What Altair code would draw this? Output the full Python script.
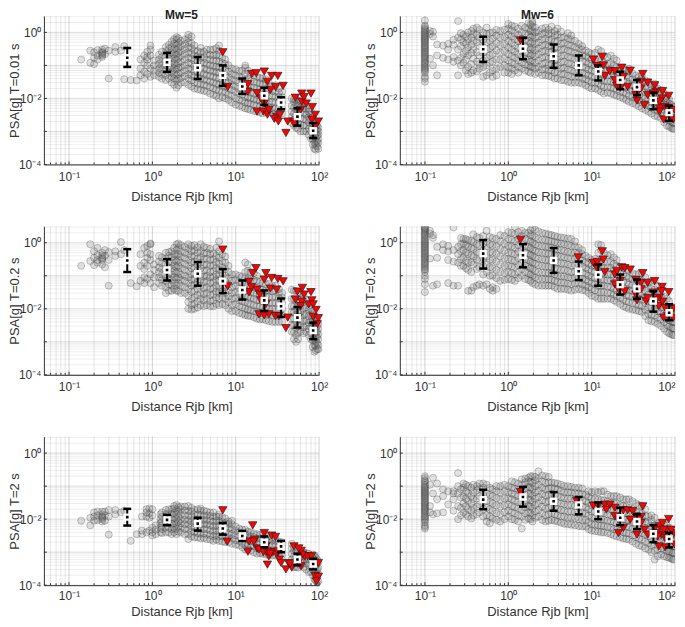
import altair as alt
import pandas as pd

BIN_X = [0.5, 1.5, 3.5, 7, 12, 22, 35, 55, 85]

# ---------- Mw=5, T=0.01 s
G11 = [(0.14,[.15]),(0.18,[.12,.28]),(0.2,[.11,.17,.25]),(0.22,[.15,.2,.29]),(0.25,[.18,.22,.26,.3,.2,.24]),(0.27,[.22,.32]),(0.3,[.28,.04]),(0.36,[.36,.26]),(0.42,[.28]),(0.46,[.038,.38]),(0.55,[.036]),(0.65,[.035]),
(0.72,[.05,.08,.15]),(0.8,[.04,.065,.12,.2]),(0.87,[.055,.1,.15,.18,.26]),(0.95,[.045,.08,.2,.3,.4]),(1.05,[.05,.07,.1,.14]),(1.2,[.045,.06,.08,.11,.15,.21]),
(1.45,[.036,.05,.07,.1,.14,.19,.27,.36]),(1.7,[.03,.045,.065,.09,.13,.18,.25,.36,.52]),(1.95,[.021,.035,.05,.075,.1,.15,.21,.3,.42,.6,.72]),(2.2,[.03,.042,.06,.09,.13,.19,.27,.38,.55]),
(2.7,[.026,.04,.055,.08,.12,.17,.25,.36,.5,.68,.85]),(3.2,[.02,.03,.045,.065,.095,.14,.2,.28,.4]),(3.8,[.018,.027,.04,.06,.085,.12,.17,.25,.34]),(4.5,[.016,.024,.035,.05,.075,.11,.15,.22,.3]),
(5.4,[.013,.02,.03,.045,.065,.095,.14,.2,.3]),(6.3,[.01,.017,.026,.04,.06,.09,.13,.2,.28,.4]),(7.5,[.01,.015,.022,.035,.05,.075,.11,.15]),(9,[.0075,.012,.018,.026,.037,.055,.08]),
(11,[.006,.009,.014,.02,.03,.045,.068]),(13,[.005,.0075,.011,.016,.024,.036,.055,.085,.1]),(15,[.0045,.007,.01,.015,.022,.033,.055]),(18,[.004,.006,.009,.013,.02,.03,.045]),
(21,[.0035,.0055,.008,.012,.018,.027,.04]),(25,[.004,.0055,.008,.012,.018,.03]),(30,[.0035,.005,.0075,.011,.016,.025]),(36,[.0035,.005,.0075,.011,.016]),
(47,[.0018,.0028,.004,.006,.01]),(53,[.0013,.002,.003,.0045,.0065,.009]),(60,[.001,.0016,.0025,.0038,.0055,.008]),(70,[.001,.0015,.0022,.0032,.0048,.006]),
(80,[.0006,.001,.0015,.0022,.0032,.004]),(88,[.0003,.00045,.0007,.001,.0015,.002]),(95,[.00035,.0005,.00075,.0011,.0015])]
G11B = [(1.3,[.04,.055,.075,.1,.13,.18,.26]),(1.58,[.04,.06,.085,.12,.16,.22,.32,.42]),(1.82,[.026,.04,.055,.08,.11,.16,.22,.31,.45,.62]),(2.05,[.025,.04,.055,.085,.12,.17,.24,.34,.48,.66]),(2.45,[.03,.048,.07,.1,.15,.22,.31,.44,.6]),(2.95,[.023,.035,.05,.075,.11,.16,.23,.33,.46,.75]),(3.5,[.019,.028,.042,.062,.09,.13,.19,.27]),(4.15,[.017,.026,.038,.055,.08,.12,.18,.26]),(4.95,[.014,.022,.032,.048,.07,.1,.15,.21,.3]),(5.85,[.012,.018,.028,.042,.062,.09,.14,.21,.33]),(6.9,[.011,.016,.024,.036,.055,.08,.12,.17]),(8.2,[.009,.013,.02,.03,.044,.065,.1]),(10,[.0065,.01,.016,.023,.034,.05,.075]),(12,[.0055,.0085,.013,.019,.028,.042,.07]),(14,[.0048,.0072,.011,.017,.026,.04,.07]),(16.5,[.0042,.0065,.0095,.014,.021,.032,.05]),(19.5,[.0038,.0058,.0085,.013,.019,.029,.042]),(23,[.0038,.0055,.0085,.013,.019,.03,.038]),(27.5,[.0036,.0052,.0078,.012,.017,.024]),(33,[.0036,.005,.0075,.011,.015,.02]),(50,[.0015,.0023,.0035,.0052,.0078,.0095]),(56,[.0012,.0018,.0028,.0042,.006,.0085]),(65,[.001,.0015,.0024,.0036,.005,.007]),(75,[.0008,.0012,.0019,.0027,.004,.005]),(84,[.0004,.0006,.00085,.0012,.0018,.0027]),(91,[.00028,.00038,.0005,.00065,.00085,.0011,.0014,.0018]),(98,[.0003,.00045,.0006,.0008,.001,.0013])]
T11 = [(7,.25),(8,.022),(14,.027),(15.6,.055),(17.6,.058),(22,.065),(24,.032),(27,.048),(32,.048),(37,.024),(30,.022),(26,.018),(18,.0145),(14,.016),(20,.01),(22,.007),(18,.004),(21.5,.004),(24,.0032),(25,.0045),(31,.0028),(29,.0024),(34,.0032),(32.5,.002),(42,.002),(40,.0009),(50,.002),(52,.0105),(62,.014),(80,.014),(62,.008),(66,.011),(70,.007),(83,.0055),(60,.0045),(90,.0032),(82,.0023),(98,.002),(90,.0014),(50,.0017)]
C11 = [.17,.125,.085,.05,.023,.012,.0075,.0028,.00105]
L11 = [.09,.064,.039,.024,.0137,.0063,.0047,.0015,.00063]
H11 = [.338,.24,.18,.10,.04,.021,.0108,.005,.0018]

# ---------- Mw=5, T=0.2 s
G21 = [(0.14,[.2]),(0.18,[.28,.9]),(0.2,[.21,.35,.55]),(0.22,[.25,.3,.42,.7]),(0.25,[.22,.3,.36,.42,.5,.33]),(0.27,[.18,.4,.6]),(0.3,[.3,.05,.52]),(0.36,[.55,.4]),(0.42,[1.05,.45]),(0.46,[.6]),(0.55,[.06]),(0.65,[.048]),
(0.72,[.07,.2,.45]),(0.8,[.06,.09,.16,.25,.7]),(0.87,[.08,.2,.35,.5,.8]),(0.95,[.06,.11,.3,.45,.9,.95]),(1.05,[.045,.09,.15,.22]),(1.2,[.06,.09,.13,.18,.27,.4]),
(1.45,[.03,.045,.07,.1,.15,.22,.33,.5]),(1.7,[.035,.05,.075,.11,.17,.25,.37,.55]),(1.95,[.035,.05,.08,.12,.18,.27,.4,.6,.9]),(2.2,[.03,.05,.075,.11,.17,.25,.38,.55,.85]),
(2.7,[.01,.016,.025,.04,.06,.09,.14,.2,.3,.45,.65,.9]),(3.2,[.01,.014,.022,.035,.055,.08,.12,.18,.27,.4,.6,.85]),(3.8,[.013,.02,.03,.05,.075,.11,.17,.25,.37,.55,.9]),(4.5,[.013,.02,.03,.045,.07,.1,.15,.22,.33,.5,.7]),
(5.4,[.012,.018,.028,.042,.065,.095,.14,.21,.32,.48]),(6.3,[.013,.02,.03,.045,.07,.1,.15,.23,.35,.55,1.1]),(7.5,[.013,.02,.03,.045,.07,.1,.16,.25,.38]),(9,[.0085,.013,.02,.03,.045,.07,.11]),
(11,[.0075,.012,.018,.028,.042,.065,.1]),(13,[.0065,.01,.016,.024,.036,.055,.085,.13,.25]),(15,[.006,.009,.014,.021,.032,.05,.08,.13]),(18,[.005,.008,.012,.018,.028,.042,.07,.1]),
(21,[.0048,.0075,.011,.017,.025,.038,.06]),(25,[.0042,.0065,.01,.015,.023,.035,.058]),(30,[.004,.0065,.01,.015,.023,.035,.05]),(36,[.004,.0065,.01,.015,.022,.03]),
(47,[.002,.0032,.005,.008,.012,.02,.038]),(53,[.001,.0016,.0026,.004,.0065,.01,.017,.035]),(60,[.002,.003,.0048,.0075,.012,.019,.03]),(70,[.002,.003,.0045,.007,.011,.019]),
(80,[.0012,.0018,.0028,.0042,.0065,.01]),(88,[.0005,.0008,.0012,.0018,.0027,.0042]),(95,[.0006,.0009,.0014,.002,.003,.0045])]
G21B = [(1.3,[.05,.075,.11,.16,.24,.36]),(1.58,[.035,.055,.08,.12,.18,.27,.4,.52]),(1.82,[.04,.06,.09,.14,.2,.3,.45,.7]),(2.05,[.035,.06,.09,.13,.2,.3,.45,.7,.95]),(2.45,[.03,.045,.07,.1,.15,.23,.34,.5,.75]),(2.95,[.0095,.013,.02,.033,.05,.075,.11,.17,.25,.38,.55,.8]),(3.5,[.011,.017,.026,.04,.065,.1,.15,.22,.33,.5,.72]),(4.15,[.012,.018,.028,.042,.065,.095,.14,.21,.32,.47,.75]),(4.95,[.012,.017,.026,.04,.06,.09,.13,.2,.3,.45,.65]),(5.85,[.014,.022,.033,.05,.075,.11,.17,.26,.4,.7]),(6.9,[.014,.022,.034,.05,.08,.12,.18,.28,.45]),(8.2,[.01,.016,.024,.036,.055,.085,.13,.2]),(10,[.0085,.014,.021,.032,.05,.075,.11]),(12,[.007,.011,.017,.026,.04,.06,.095]),(14,[.0062,.0095,.015,.023,.034,.052,.08,.14,.22]),(16.5,[.0055,.0085,.013,.02,.03,.046,.075,.12]),(19.5,[.0048,.0075,.012,.018,.027,.04,.065]),(23,[.0045,.007,.011,.016,.024,.036,.055]),(27.5,[.004,.0065,.01,.015,.022,.034,.05]),(33,[.004,.0065,.0095,.014,.021,.03,.04]),(50,[.0012,.002,.0032,.005,.008,.012,.02,.035]),(56,[.0012,.0019,.003,.0048,.0075,.012,.02,.032]),(65,[.0018,.0028,.0042,.0065,.01,.016,.025]),(75,[.0016,.0025,.0038,.006,.0095,.015]),(84,[.0007,.0011,.0017,.0026,.004,.0062,.0085]),(91,[.00055,.00075,.001,.0014,.002,.0028,.0038]),(98,[.0006,.0008,.0012,.0017,.0025,.0035])]
T21 = [(7,.62),(8,.048),(14.5,.066),(16,.12),(17.5,.17),(23,.12),(22,.077),(27,.086),(32,.08),(37,.068),(14.5,.032),(15.5,.045),(18,.038),(19.5,.027),(20,.018),(23,.014),(26,.041),(31,.038),(19,.0068),(22,.0063),(25,.0068),(30,.006),(33,.006),(42,.0054),(40,.0026),(52,.019),(55,.033),(63,.043),(66,.027),(80,.032),(62,.0165),(60,.012),(75,.0136),(82,.018),(85,.0136),(92,.0092),(85,.0057),(98,.0052),(95,.0034),(56,.0054)]
C21 = [.29,.15,.115,.069,.037,.018,.012,.0054,.0022]
L21 = [.13,.072,.05,.03,.019,.0086,.0057,.0027,.0012]
H21 = [.64,.32,.26,.16,.072,.036,.0205,.0113,.0038]

# ---------- Mw=5, T=2 s
G31 = [(0.14,[.009]),(0.18,[.0065,.011]),(0.2,[.012,.016,.009]),(0.22,[.0095,.017,.013]),(0.25,[.0085,.011,.014,.017,.01,.012]),(0.27,[.009,.013,.017]),(0.3,[.0034,.012,.019]),(0.36,[.014,.019]),(0.42,[.016]),(0.46,[.018]),(0.55,[.0022]),(0.65,[.0035]),
(0.75,[.0035,.0045,.012]),(0.85,[.004,.012,.016,.02]),(0.92,[.0045,.011,.015,.021]),(1.0,[.0032,.004,.0055,.013,.02]),(1.1,[.0035,.0048,.0065]),(1.25,[.004,.0055,.0075,.01,.014]),
(1.45,[.004,.0055,.0075,.01,.014,.019]),(1.7,[.0035,.005,.007,.01,.014,.02]),(1.95,[.0035,.005,.007,.01,.014,.019,.027]),(2.2,[.004,.0055,.0075,.01,.014,.02,.024]),
(2.7,[.0025,.0035,.005,.007,.0095,.013,.018,.025]),(3.2,[.0028,.004,.0055,.0075,.01,.014,.019]),(3.8,[.0026,.0036,.005,.007,.0095,.013,.018,.021]),(4.5,[.0025,.0035,.005,.007,.0095,.013,.017]),
(5.4,[.0022,.003,.0042,.006,.0085,.012,.016]),(6.3,[.0022,.003,.0042,.006,.0085,.012,.014]),(7.5,[.002,.0028,.004,.0055,.0075,.0105]),(9,[.0018,.0026,.0036,.005,.007,.009]),
(11,[.0016,.0022,.003,.004,.0052]),(13,[.0012,.0017,.0024,.0034,.0048]),(15,[.0011,.0016,.0022,.003,.004]),(18,[.0009,.0013,.0019,.0026,.0035]),
(21,[.0009,.0013,.0018,.0025,.0033]),(25,[.0008,.0012,.0017,.0024,.003]),(30,[.0008,.0012,.0017,.0022,.0026]),(36,[.0008,.0011,.0015,.002]),
(47,[.0004,.0006,.0009,.0013,.0018]),(53,[.00035,.0005,.00075,.0011]),(60,[.0004,.00055,.0008,.0011]),(70,[.0003,.00045,.00065,.00095]),
(80,[.00025,.0004,.0006,.0008]),(88,[.00015,.00025,.0004,.0006,.0008]),(95,[.00012,.0002,.0003,.00045,.0006])]
G31B = [(1.3,[.0038,.005,.0065,.0085,.012,.016]),(1.58,[.004,.0055,.0075,.0105,.015,.02]),(1.82,[.004,.0055,.0075,.011,.015,.021,.025]),(2.05,[.0042,.006,.0085,.012,.017,.023]),(2.45,[.0035,.005,.007,.0095,.013,.018,.024]),(2.95,[.003,.0042,.006,.0085,.012,.017,.022]),(3.5,[.0028,.0038,.0052,.0072,.01,.014,.02]),(4.15,[.0027,.0037,.005,.007,.0095,.013,.018]),(4.95,[.0024,.0033,.0046,.0065,.009,.0125,.016]),(5.85,[.0024,.0033,.0046,.0065,.009,.012]),(6.9,[.0021,.003,.0042,.006,.0082,.0115]),(8.2,[.002,.0028,.0038,.0052,.0072,.0085]),(10,[.0017,.0023,.0032,.0044,.006]),(12,[.0014,.0019,.0027,.0037,.0048]),(14,[.0012,.0017,.0024,.0033,.0042]),(16.5,[.001,.0015,.0021,.0029,.0037]),(19.5,[.00095,.0013,.0019,.0026,.0034]),(23,[.00085,.0012,.0017,.0024,.0031]),(27.5,[.0008,.0011,.0016,.0022,.0028]),(33,[.00078,.0011,.0015,.0021]),(50,[.00035,.0005,.00075,.0011,.0014]),(56,[.00034,.0005,.0007,.001]),(65,[.00035,.0005,.00072,.001]),(75,[.00025,.0004,.0006,.0009]),(84,[.0002,.0003,.00045,.00065,.00085]),(91,[.00014,.0002,.00028,.0004,.00055,.0007]),(98,[.00013,.00022,.00033,.0005])]
T31 = [(7,.0186),(7.9,.0021),(14,.00103),(16,.0065),(14.5,.0021),(17,.0024),(18,.0013),(22,.0038),(21.5,.001),(24,.00042),(27,.0032),(30,.0029),(25,.00075),(28,.001),(31,.00085),(33.5,.0006),(19,.0012),(24,.00105),(35,.00047),(40,.0003),(43,.00047),(47,.00034),(50,.0015),(61,.0011),(61,.00038),(67,.00075),(73,.00075),(81,.00075),(98,.00047),(90,.00019),(98,.00018),(93,.00013),(56,.00047),(63,.00085),(32,.00105),(45,.00045),(23,.0015),(26,.0009),(16.5,.0021),(57,.0013)]
C31 = [.0115,.0095,.0073,.0052,.0031,.002,.0015,.0006,.00044]
L31 = [.0064,.0066,.0045,.0034,.0022,.0014,.001,.0004,.0003]
H31 = [.0205,.0135,.011,.0077,.0044,.003,.0022,.0009,.00063]

# ---------- Mw=6, T=0.01 s
G12 = [(0.1,[.032,.045,.06,.075,.09,.11,.13,.16,.19,.23,.27,.32,.38,.45,.53,.62,.72,.85,1.0,1.2,1.45,2.3]),
(0.115,[.9,1.1,.16]),(0.125,[.75,.1,1.05]),(0.14,[.05,.2,.43]),(0.165,[.4,.17]),(0.19,[.15,.3,.45]),(0.22,[.13,.18,.42,.6]),(0.25,[.05,.14,.3,.7,2.2]),(0.29,[.12,.22,.5,.85]),(0.33,[.055,.09,.2,.35,.6,1.0]),(0.38,[.07,.16,.3,.55,.9,1.3]),(0.45,[.08,.11,.2,.4,.7,1.2]),(0.55,[.05,.1,.17,.3,.5,.9,1.4]),(0.65,[.045,.07,.13,.22,.38,.65,1.0]),(0.8,[.09,.15,.25,.42,.7,1.1]),
(1,[.06,.09,.14,.22,.35,.55,.85,1.3,1.8]),(1.2,[.07,.11,.17,.26,.4,.62,.95,1.5]),(1.45,[.08,.12,.18,.27,.42,.65,1.0,1.6]),(1.75,[.065,.1,.15,.23,.35,.55,.85,1.3,1.9]),(1.95,[.09,.14,.22,.34,.52,.8,1.1,1.5,1.9,2.2]),(2.3,[.06,.09,.14,.22,.33,.5,.75,1.1]),
(2.8,[.05,.08,.12,.18,.28,.42,.65,1.0,1.4]),(3.3,[.045,.07,.11,.17,.26,.4,.62,.95,1.5]),(3.9,[.04,.065,.1,.15,.23,.36,.55,.85,1.3]),(4.7,[.035,.055,.085,.13,.2,.31,.48,.72]),(5.7,[.03,.045,.07,.11,.17,.26,.4,.6,.8]),(7,[.03,.045,.07,.1,.15,.22,.33,.45]),(8.5,[.025,.038,.055,.085,.13,.19,.28]),
(10,[.02,.03,.045,.07,.1,.15,.22]),(12,[.018,.028,.042,.065,.1,.15,.3]),(14,[.014,.022,.034,.05,.08,.12,.2]),(17,[.014,.021,.032,.05,.075,.12,.2]),(20,[.012,.018,.027,.04,.06,.09,.14]),(24,[.01,.015,.023,.035,.055,.08]),
(28,[.008,.012,.018,.028,.042,.065,.08]),(34,[.0065,.01,.015,.022,.033,.05]),(40,[.005,.0075,.011,.017,.026,.04,.05]),(48,[.004,.006,.009,.014,.02,.032]),(57,[.003,.0045,.0068,.01,.015,.022,.028]),(68,[.0025,.0038,.0055,.008,.012,.018]),(80,[.0015,.0023,.0034,.005,.0075,.01]),(90,[.0013,.002,.003,.0045,.0065]),(97,[.0012,.0018,.0026,.0038,.0055])]
G12B = [(0.1,[.04,.068,.082,.1,.12,.145,.175,.21,.25,.295,.35,.41,.49,.57,.67,.78,.92,1.1,1.3,1.6]),(0.27,[.1,.17,.38,.62,.95]),(0.31,[.07,.15,.27,.45,.75]),(0.36,[.06,.11,.24,.42,.7,1.1]),(0.42,[.065,.13,.25,.5,.85,1.4]),(0.5,[.045,.09,.14,.24,.36,.6,1.0]),(0.6,[.06,.12,.2,.33,.55,.95]),(0.72,[.05,.08,.15,.28,.47,.8,1.2]),(0.9,[.06,.1,.16,.27,.44,.72,1.2]),(1.1,[.055,.08,.12,.19,.3,.48,.75,1.15,1.6]),(1.32,[.06,.09,.14,.22,.34,.54,.82,1.3]),(1.6,[.07,.105,.16,.24,.38,.6,.92,1.4]),(1.85,[.06,.09,.13,.2,.3,.47,.72,1.1,1.7]),(2.1,[.055,.08,.12,.19,.29,.45,.68,1.0,1.4]),(2.55,[.05,.075,.11,.17,.26,.4,.6,.9,1.3]),(3.05,[.048,.07,.1,.16,.25,.38,.58,.88,1.2]),(3.6,[.04,.06,.095,.14,.22,.34,.52,.8,1.1]),(4.3,[.036,.055,.08,.125,.19,.3,.45,.7,1.05]),(5.2,[.032,.05,.075,.115,.18,.28,.42,.65,.95]),(6.3,[.03,.045,.065,.1,.155,.24,.36,.55]),(7.7,[.028,.04,.06,.09,.135,.2,.3,.38]),(9.2,[.022,.034,.05,.075,.115,.17,.25]),(11,[.02,.03,.044,.065,.1,.15,.24]),(13,[.016,.024,.036,.055,.085,.14,.27]),(15.5,[.015,.022,.033,.05,.075,.115,.18]),(18.5,[.013,.02,.03,.045,.068,.1,.16]),(22,[.011,.016,.025,.038,.055,.085]),(26,[.009,.014,.021,.032,.048,.07]),(31,[.0072,.011,.017,.025,.038,.056]),(37,[.0058,.0088,.013,.02,.03,.045]),(44,[.0045,.0068,.01,.015,.023,.035]),(52,[.0035,.0052,.0078,.012,.018,.026]),(62,[.0028,.0042,.0062,.0092,.014,.02]),(74,[.0019,.003,.0045,.0065,.0098,.014]),(85,[.0014,.0021,.0032,.0048,.007,.0095]),(94,[.0012,.0018,.0026,.004,.0058])]
T12 = [(1.4,.57),(10.5,.15),(13.4,.18),(11.5,.097),(13.8,.1),(14.4,.048),(16.5,.067),(19,.067),(23,.085),(29,.069),(19,.036),(20,.024),(27,.0225),(24,.045),(41,.055),(39,.032),(34,.016),(35,.0086),(47,.03),(57,.025),(47,.0127),(43,.0063),(60,.016),(71,.0167),(84,.012),(70,.01),(55,.0143),(65,.005),(76,.0056),(73,.0023),(95,.0023),(99,.0045),(82,.005),(34,.0127),(65,.008),(39,.02),(22,.021),(65,.004)]
C12 = [.31,.32,.19,.1,.065,.036,.022,.0087,.0037]
L12 = [.128,.154,.085,.05,.035,.019,.0126,.0047,.0021]
H12 = [.74,.68,.43,.2,.1,.064,.036,.015,.006]

# ---------- Mw=6, T=0.2 s
G22 = [(0.1,[.032,.055,.08,.13,.16,.2,.24,.29,.35,.42,.5,.6,.72,.85,1.0,1.2,1.45,1.75,2.1,2.5,2.9,3.1]),
(0.115,[1.9,2.3,.33]),(0.125,[1.4,1.7,.05]),(0.14,[.055,.35,.75]),(0.165,[.6,.9]),(0.19,[.06,.3,.55,.8]),(0.22,[.05,.27,.6,2.9]),(0.25,[.05,.25,.45,.75]),(0.29,[.2,.36,.6,.95,1.3]),(0.33,[.035,.15,.25,.45,.75,1.2]),(0.38,[.045,.22,.38,.65,1.05,1.8]),(0.45,[.055,.18,.3,.5,.85,1.4]),(0.55,[.055,.13,.22,.38,.65,1.1,2.3]),(0.65,[.035,.045,.1,.17,.3,.5,.85,1.4]),(0.8,[.07,.13,.22,.38,.65,1.1,1.7]),
(1,[.08,.13,.2,.32,.5,.8,1.3,2.1]),(1.2,[.07,.11,.18,.28,.45,.7,1.1,1.8,3.0]),(1.45,[.1,.16,.25,.4,.62,1.0,1.6,2.3]),(1.75,[.075,.12,.19,.3,.47,.75,1.2,2.0]),(1.95,[.06,.1,.16,.25,.4,.62,1.0,1.6,2.8]),(2.3,[.05,.08,.13,.21,.33,.52,.82,1.3,2.2]),
(2.8,[.05,.08,.12,.19,.3,.48,.75,1.2,1.9]),(3.3,[.05,.075,.12,.18,.28,.45,.7,1.1,1.7]),(3.9,[.04,.065,.1,.16,.25,.4,.62,1.0,1.5]),(4.7,[.04,.06,.095,.15,.23,.36,.56,.9,1.4]),(5.7,[.035,.055,.085,.13,.2,.32,.5,.8,1.3]),(7,[.04,.06,.09,.14,.21,.33,.5,.7]),(8.5,[.035,.05,.075,.115,.17,.26,.4]),
(10,[.025,.04,.06,.09,.14,.2,.3]),(12,[.02,.032,.05,.08,.12,.19,.3,.5,.9]),(14,[.02,.032,.05,.075,.11,.17,.27,.5]),(17,[.02,.03,.045,.07,.11,.17,.27,.45]),(20,[.016,.024,.036,.055,.085,.13,.2,.3]),(24,[.012,.019,.03,.045,.07,.11,.17]),
(28,[.01,.016,.024,.037,.055,.085,.14]),(34,[.009,.014,.021,.033,.05,.08,.11]),(40,[.008,.012,.019,.03,.045,.07,.12]),(48,[.0045,.007,.011,.017,.027,.042,.065]),(57,[.004,.0062,.01,.015,.024,.038,.07]),(68,[.003,.0047,.0072,.011,.017,.027,.04]),(80,[.002,.0032,.005,.0078,.012,.02]),(90,[.0017,.0027,.0042,.0065,.01]),(97,[.0016,.0025,.004,.006,.011])]
G22B = [(0.1,[.1,.15,.18,.22,.26,.32,.38,.46,.55,.66,.78,.92,1.1,1.3,1.6,1.9,2.3,2.7]),(0.27,[.2,.32,.55,.9,1.4]),(0.31,[.17,.28,.5,.85,1.3]),(0.36,[.035,.13,.26,.42,.7,1.15]),(0.42,[.05,.16,.3,.52,.9,1.5]),(0.5,[.05,.11,.2,.34,.58,.95,1.6]),(0.6,[.04,.1,.18,.3,.52,.9,1.5]),(0.72,[.04,.085,.15,.27,.46,.78,1.3]),(0.9,[.075,.12,.2,.34,.58,.95,1.6]),(1.1,[.075,.12,.19,.3,.48,.78,1.25,2.0]),(1.32,[.085,.13,.21,.34,.54,.85,1.35,2.1]),(1.6,[.08,.13,.2,.32,.5,.8,1.3,2.0]),(1.85,[.07,.11,.17,.27,.43,.68,1.1,1.7,2.4]),(2.1,[.055,.09,.14,.23,.36,.57,.9,1.45,2.5]),(2.55,[.05,.08,.125,.2,.31,.5,.78,1.25,2.0]),(3.05,[.05,.078,.12,.19,.3,.46,.72,1.15,1.8]),(3.6,[.045,.07,.11,.17,.27,.42,.66,1.05,1.6]),(4.3,[.04,.062,.097,.15,.24,.38,.6,.95,1.45]),(5.2,[.038,.058,.09,.14,.22,.34,.53,.85,1.35]),(6.3,[.038,.058,.088,.135,.205,.32,.5,.78,1.1]),(7.7,[.037,.055,.082,.125,.19,.29,.45,.6]),(9.2,[.03,.045,.068,.1,.155,.23,.35]),(11,[.023,.036,.055,.085,.13,.2,.32]),(13,[.02,.032,.05,.078,.12,.19,.3,.6,.85]),(15.5,[.02,.03,.047,.072,.11,.17,.27,.42]),(18.5,[.018,.027,.04,.062,.095,.15,.23,.36]),(22,[.014,.021,.032,.05,.078,.12,.19]),(26,[.011,.017,.026,.04,.062,.095,.15]),(31,[.0095,.015,.023,.035,.052,.08,.12]),(37,[.0085,.013,.02,.031,.047,.075,.115]),(44,[.006,.0095,.015,.023,.036,.056,.09]),(52,[.0042,.0066,.0105,.016,.025,.04,.068]),(62,[.0035,.0054,.0085,.013,.02,.032,.05]),(74,[.0025,.004,.006,.0095,.015,.023]),(85,[.0018,.0029,.0045,.0072,.011,.017]),(94,[.0016,.0026,.004,.0062,.0098])]
T22 = [(1.4,1.23),(6.9,.36),(10.5,.245),(11.7,.26),(13.4,.55),(13.8,.31),(14.4,.13),(11.6,.17),(19,.11),(20,.137),(23,.18),(25,.17),(29,.154),(19,.055),(21,.039),(25,.034),(41,.12),(34,.074),(39,.061),(47,.061),(57,.069),(35,.018),(34,.027),(45,.017),(70,.046),(84,.032),(69,.034),(55,.031),(64,.012),(71,.0165),(97,.0103),(95,.0054),(73,.0054),(82,.0061),(47,.021),(65,.0217),(22,.069),(39,.039),(60,.019),(76,.0107)]
C22 = [.47,.42,.29,.137,.107,.054,.04,.017,.0076]
L22 = [.165,.18,.122,.074,.05,.027,.02,.0082,.0045]
H22 = [1.2,.91,.69,.27,.22,.109,.077,.034,.0137]

# ---------- Mw=6, T=2 s
G32 = [(0.1,[.0052,.0065,.009,.011,.013,.016,.019,.023,.027,.032,.038,.045,.053,.062,.072,.085,.1,.125,.15,.2]),
(0.115,[.11,.025,.016]),(0.125,[.18,.06,.014]),(0.14,[.015,.04,.12]),(0.165,[.016,.05,.08]),(0.19,[.028,.07]),(0.22,[.018,.04,.06,.07]),(0.25,[.01,.025,.06,.1,.25]),(0.29,[.016,.03,.05,.09,.12]),(0.33,[.012,.02,.035,.06,.1]),(0.38,[.013,.022,.04,.065,.11]),(0.45,[.016,.028,.05,.085,.12]),(0.55,[.0085,.013,.022,.036,.06,.11]),(0.65,[.0105,.018,.03,.05,.08]),(0.8,[.0085,.014,.024,.04,.065,.1]),
(1,[.012,.018,.028,.043,.066,.1]),(1.2,[.0095,.015,.023,.036,.055,.085,.13]),(1.45,[.0052,.012,.019,.03,.047,.072,.11,.16]),(1.75,[.0105,.016,.025,.04,.06,.095,.14,.18]),(1.95,[.0085,.013,.021,.033,.052,.08,.125,.2]),(2.3,[.012,.019,.03,.047,.072,.11,.17,.28]),
(2.8,[.0085,.013,.021,.033,.052,.08,.125,.2]),(3.3,[.0095,.015,.024,.037,.058,.09,.13]),(3.9,[.0085,.013,.02,.032,.05,.08,.12]),(4.7,[.0072,.012,.018,.028,.043,.065,.1]),(5.7,[.0068,.011,.017,.027,.042,.065,.095]),(7,[.0062,.01,.016,.025,.038,.06,.09]),(8.5,[.006,.0095,.015,.023,.035,.055]),
(10,[.0045,.007,.011,.017,.027,.042,.065]),(12,[.0042,.0065,.01,.016,.025,.04,.065]),(14,[.004,.0062,.0095,.015,.023,.037,.07]),(17,[.0035,.0055,.0085,.013,.02,.032,.05]),(20,[.003,.0048,.0075,.012,.019,.03,.05]),(24,[.0026,.004,.0065,.01,.016,.025,.04]),
(28,[.0024,.0037,.0058,.009,.014,.022,.04]),(34,[.0018,.0028,.0044,.007,.011,.017,.03]),(40,[.0015,.0024,.0038,.006,.0095,.015,.025]),(48,[.0012,.0019,.003,.0048,.0075,.012]),(57,[.0006,.0011,.0017,.0027,.0042,.0065,.011]),(68,[.00085,.0013,.002,.0032,.005,.0075]),(80,[.0007,.0011,.0017,.0026,.004,.0065]),(90,[.00065,.001,.0016,.0024,.0035]),(97,[.0006,.00095,.0015,.0023,.0035])]
G32B = [(0.1,[.0058,.008,.01,.012,.0145,.0175,.021,.025,.03,.035,.042,.05,.058,.067,.078,.092,.11,.14,.175]),(0.27,[.013,.022,.045,.08]),(0.31,[.014,.025,.042,.07,.11]),(0.36,[.0105,.018,.03,.05,.09]),(0.42,[.014,.024,.042,.075,.1]),(0.5,[.012,.02,.032,.055,.09,.12]),(0.6,[.0075,.012,.02,.033,.055,.09]),(0.72,[.0095,.015,.026,.043,.07,.1]),(0.9,[.01,.016,.026,.042,.07,.11]),(1.1,[.01,.016,.025,.04,.06,.09,.14]),(1.32,[.0085,.013,.021,.033,.05,.078,.12]),(1.6,[.0095,.015,.023,.036,.055,.085,.13,.17]),(1.85,[.01,.015,.024,.037,.058,.09,.135,.2]),(2.1,[.011,.017,.027,.042,.065,.1,.15,.19]),(2.55,[.0095,.015,.024,.037,.058,.09,.14,.21]),(3.05,[.009,.014,.022,.035,.055,.085,.13,.19]),(3.6,[.009,.014,.022,.034,.053,.085,.125]),(4.3,[.0078,.012,.019,.03,.046,.072,.11]),(5.2,[.007,.011,.017,.027,.042,.065,.1]),(6.3,[.0065,.0105,.016,.025,.04,.062,.09]),(7.7,[.006,.0095,.015,.024,.037,.058,.085]),(9.2,[.005,.008,.013,.02,.031,.048,.07]),(11,[.0043,.0068,.0105,.017,.026,.041,.07]),(13,[.004,.0064,.01,.0155,.024,.038,.07]),(15.5,[.0038,.0058,.009,.014,.022,.034,.055]),(18.5,[.0032,.005,.008,.0125,.02,.031,.05]),(22,[.0028,.0044,.007,.011,.017,.027,.045]),(26,[.0025,.0038,.006,.0095,.015,.024,.04]),(31,[.0021,.0032,.005,.008,.0125,.02,.035]),(37,[.0016,.0026,.004,.0065,.01,.016,.027]),(44,[.0013,.0021,.0034,.0054,.0085,.013,.02]),(52,[.001,.0016,.0025,.004,.0062,.0095,.013]),(62,[.00075,.0012,.0019,.003,.0046,.007]),(74,[.00075,.0012,.0018,.0028,.0044,.007]),(85,[.00068,.00105,.0016,.0025,.0038,.0055]),(94,[.0006,.00095,.0015,.0023,.0033])]
T32 = [(1.4,.066),(6.6,.036),(10.5,.0256),(12,.0256),(14.4,.0275),(16.5,.0275),(19,.022),(15,.0194),(19,.0122),(21,.0097),(24,.0186),(27,.0186),(24,.0054),(21,.0038),(41,.0245),(34,.0122),(39,.0116),(35,.0034),(47,.0034),(43,.0048),(57,.0054),(65,.0061),(71,.0077),(84,.0101),(79,.0048),(97,.0038),(99,.0017),(76,.0014),(64,.0015),(69,.0034),(76,.0027),(90,.0048),(82,.0024),(60,.0038),(73,.0048),(39,.0077),(36,.0097),(31,.0174),(29,.0097),(62,.003)]
C32 = [.039,.047,.035,.027,.017,.011,.0085,.0036,.0025]
L32 = [.02,.024,.018,.014,.01,.0066,.005,.002,.0014]
H32 = [.078,.095,.066,.047,.032,.022,.014,.0066,.0039]

X_MAJOR = [0.1, 1, 10, 100]
X_MINOR = [.06,.07,.08,.09,.2,.3,.4,.5,.6,.7,.8,.9,2,3,4,5,6,7,8,9,20,30,40,50,60,70,80,90]
Y_MAJOR = [1e-4,1e-3,1e-2,1e-1,1]
Y_MINOR = [2e-4,3e-4,4e-4,5e-4,6e-4,7e-4,8e-4,9e-4,2e-3,3e-3,4e-3,5e-3,6e-3,7e-3,8e-3,9e-3,.02,.03,.04,.05,.06,.07,.08,.09,.2,.3,.4,.5,.6,.7,.8,.9,2,3]

W, H = 276, 149
INK = "#333333"
FONT = "Liberation Sans"
XS = alt.Scale(type="log", domain=[0.05, 100], nice=False)
YS = alt.Scale(type="log", domain=[1e-4, 3.16], nice=False)
XLAB = "datum.value<0.5 ? '10⁻¹' : datum.value<5 ? '10⁰' : datum.value<50 ? '10¹' : '10²'"
YLAB = "datum.value<0.001 ? '10⁻⁴' : datum.value<0.1 ? '10⁻²' : '10⁰'"


def panel(grey, grey2, tri, ctr, lo, hi, ylabel, title=None, tight=False, right=False):
    cols = grey + grey2
    gx = [x for x, ys in cols for _ in ys]
    gy = [y for _, ys in cols for y in ys]
    gdf = pd.DataFrame({"x": gx, "y": gy})
    tdf = pd.DataFrame(tri, columns=["x", "y"])
    bdf = pd.DataFrame({"x": BIN_X, "c": ctr, "lo": lo, "hi": hi})

    xaxis = alt.Axis(values=X_MAJOR, labelExpr=XLAB, title="Distance Rjb [km]", grid=False, ticks=False,
                     domainColor=INK, domainWidth=1, labelColor=INK, titleColor=INK, labelFont=FONT,
                     titleFont=FONT, labelFontSize=12, titleFontSize=13, titleFontWeight="normal",
                     labelPadding=5 if tight else 7, titlePadding=4 if tight else 8,
                     labelFlush=right, labelOverlap=False)
    yaxis = alt.Axis(values=[1e-4, 1e-2, 1], labelExpr=YLAB, title=ylabel, grid=False, ticks=False,
                     domainColor=INK, domainWidth=1, labelColor=INK, titleColor=INK, labelFont=FONT,
                     titleFont=FONT, labelFontSize=12, titleFontSize=13, titleFontWeight="normal",
                     labelPadding=3, titleX=-22, titleY=H / 2, labelOverlap=False)

    def vx(field="x"):
        return alt.X(f"{field}:Q", scale=XS, axis=xaxis)

    def vy(field="y"):
        return alt.Y(f"{field}:Q", scale=YS, axis=yaxis)

    layers = [
        alt.Chart(pd.DataFrame({"x": X_MINOR})).mark_rule(color="#000", opacity=0.10, strokeWidth=1).encode(x=vx()),
        alt.Chart(pd.DataFrame({"y": Y_MINOR})).mark_rule(color="#000", opacity=0.07, strokeWidth=1).encode(y=vy()),
        alt.Chart(pd.DataFrame({"x": X_MAJOR})).mark_rule(color="#000", opacity=0.18, strokeWidth=1).encode(x=vx()),
        alt.Chart(pd.DataFrame({"y": Y_MAJOR})).mark_rule(color="#000", opacity=0.14, strokeWidth=1).encode(y=vy()),
        alt.Chart(gdf).mark_point(shape="circle", filled=False, fill="#707070", fillOpacity=0.2, stroke="#303030",
                                  strokeOpacity=0.33, strokeWidth=0.8, size=50, clip=right).encode(x=vx(), y=vy()),
        alt.Chart(tdf).mark_point(shape="triangle-down", filled=True, fill="#ff0000", opacity=1, stroke="#222222",
                                  strokeWidth=0.7, size=70, clip=right).encode(x=vx(), y=vy()),
        alt.Chart(bdf).mark_rule(color="#000", strokeWidth=2).encode(x=vx(), y=vy("lo"), y2="hi:Q"),
        alt.Chart(bdf).mark_tick(color="#000", thickness=2.5, size=8, orient="horizontal", opacity=1).encode(x=vx(), y=vy("lo")),
        alt.Chart(bdf).mark_tick(color="#000", thickness=2.5, size=8, orient="horizontal", opacity=1).encode(x=vx(), y=vy("hi")),
        alt.Chart(bdf).mark_point(shape="square", filled=True, fill="#000", stroke="#fff", strokeWidth=2.4, size=25, opacity=1).encode(x=vx(), y=vy("c")),
        alt.Chart(pd.DataFrame({"x": X_MAJOR})).mark_rule(color=INK).encode(x=vx(), y=alt.value(H), y2=alt.value(H - 3)),
        alt.Chart(pd.DataFrame({"x": X_MINOR})).mark_rule(color=INK).encode(x=vx(), y=alt.value(H), y2=alt.value(H - 2)),
        alt.Chart(pd.DataFrame({"y": Y_MAJOR})).mark_rule(color=INK).encode(y=vy(), x=alt.value(0), x2=alt.value(3)),
    ]
    if title:
        layers.append(alt.Chart(pd.DataFrame({"t": [title]})).mark_text(
            font=FONT, fontSize=12, fontWeight="bold", color="#222", align="center", baseline="alphabetic").encode(
            x=alt.value(W / 2), y=alt.value(3.5), text="t:N"))
    return alt.layer(*layers).properties(width=W, height=H)


panels = [
    panel(G11, G11B, T11, C11, L11, H11, "PSA[g] T=0.01 s", "Mw=5"),
    panel(G12, G12B, T12, C12, L12, H12, "PSA[g] T=0.01 s", "Mw=6", right=True),
    panel(G21, G21B, T21, C21, L21, H21, "PSA[g] T=0.2 s"),
    panel(G22, G22B, T22, C22, L22, H22, "PSA[g] T=0.2 s", right=True),
    panel(G31, G31B, T31, C31, L31, H31, "PSA[g] T=2 s", tight=True),
    panel(G32, G32B, T32, C32, L32, H32, "PSA[g] T=2 s", tight=True, right=True),
]

chart = alt.concat(*panels, columns=2, spacing={"row": 62, "column": 81}, bounds="flush").properties(
    padding=0, background="white"
).configure_view(stroke=None)

chart.save("out.html", embed_options={"renderer": "svg", "actions": False})
